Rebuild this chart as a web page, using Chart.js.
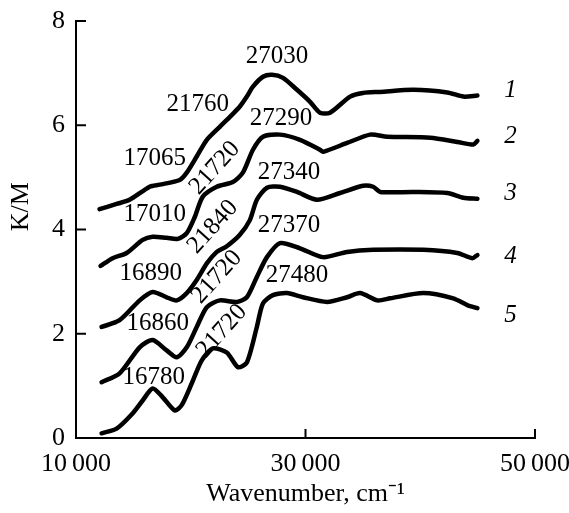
<!DOCTYPE html>
<html>
<head>
<meta charset="utf-8">
<script src="https://cdn.jsdelivr.net/npm/chart.js@4.4.0/dist/chart.umd.min.js"></script>
<style>
  body { margin: 0; background: #fff; }
  #wrap { width: 569px; height: 513px; }
</style>
</head>
<body>
<div id="wrap"><canvas id="myChart" width="569" height="513"></canvas></div>
<script>
// spectra: wavenumber (cm-1) and K/M
const curve1Wn = [12050, 13540, 14670, 16420, 17290, 19040, 19650, 20520, 21400, 22530, 23410, 24280, 24890, 25420, 26290, 27080, 28040, 29260, 30400, 31270, 32140, 33890, 35000, 36510, 39390, 42360, 43760, 44980];
const curve1Km = [4.39, 4.49, 4.57, 4.82, 4.86, 4.95, 5.09, 5.40, 5.72, 5.97, 6.16, 6.36, 6.55, 6.74, 6.93, 6.97, 6.91, 6.68, 6.45, 6.24, 6.24, 6.55, 6.62, 6.64, 6.68, 6.63, 6.55, 6.57];

const curve2Wn = [12140, 13190, 14410, 15810, 16680, 17900, 18870, 19650, 20350, 21050, 22270, 23670, 24540, 25420, 26290, 27770, 29520, 31270, 31530, 33620, 35630, 37120, 40870, 43230, 44630, 44980];
const curve2Km = [3.30, 3.45, 3.55, 3.80, 3.86, 3.84, 3.82, 3.93, 4.24, 4.63, 4.82, 4.91, 5.09, 5.53, 5.78, 5.82, 5.72, 5.53, 5.49, 5.66, 5.82, 5.78, 5.76, 5.68, 5.63, 5.70];

const curve3Wn = [12230, 13800, 15550, 16680, 17900, 18780, 19650, 20520, 21400, 22270, 23140, 24280, 25150, 25760, 26640, 27770, 29260, 31000, 33010, 35020, 35900, 36510, 39390, 42360, 43760, 44980];
const curve3Km = [2.13, 2.26, 2.64, 2.80, 2.70, 2.64, 2.78, 3.03, 3.35, 3.57, 3.68, 3.90, 4.18, 4.57, 4.80, 4.82, 4.72, 4.57, 4.70, 4.84, 4.82, 4.72, 4.72, 4.70, 4.61, 4.59];

const curve4Wn = [12230, 13800, 15550, 16680, 17900, 18780, 19650, 20520, 21400, 22530, 24020, 24890, 25760, 26640, 27770, 29520, 31530, 33620, 35900, 40260, 43230, 44540, 44980];
const curve4Km = [1.07, 1.24, 1.74, 1.88, 1.68, 1.55, 1.74, 2.13, 2.51, 2.64, 2.61, 2.70, 3.09, 3.47, 3.74, 3.64, 3.47, 3.57, 3.61, 3.61, 3.55, 3.45, 3.51];

const curve5Wn = [12230, 13540, 14930, 15810, 16680, 17560, 18600, 19210, 20090, 20960, 21920, 23140, 24110, 24890, 25760, 26290, 27160, 28380, 29780, 31880, 33620, 34760, 36250, 37380, 40260, 42880, 44100, 44980];
const curve5Km = [0.09, 0.18, 0.47, 0.72, 0.95, 0.78, 0.53, 0.63, 1.05, 1.49, 1.72, 1.64, 1.36, 1.45, 2.13, 2.58, 2.74, 2.78, 2.70, 2.61, 2.70, 2.78, 2.64, 2.68, 2.78, 2.68, 2.55, 2.49];

// band labels and where they sit (data coords)
const bandText = ["27030", "21760", "17065", "27290", "21720", "17010", "27340", "21840", "16890", "27370", "21720", "16860", "27480", "21720", "16780"];
const bandWn   = [27510, 20610, 16860, 27860, 22100, 16860, 28560, 21920, 16510, 28560, 22270, 17120, 29260, 22710, 16770];
const bandKm   = [7.32, 6.39, 5.37, 6.13, 5.18, 4.28, 5.10, 4.05, 3.15, 4.07, 3.09, 2.20, 3.11, 2.05, 1.16];
const bandTilted = [false, false, false, false, true, false, false, true, false, false, true, false, false, true, false];

const curveNames = ["1", "2", "3", "4", "5"];
const curveNameKm = [6.66, 5.79, 4.70, 3.48, 2.36];
const curveNameWn = 47860;

const xTicks = [10000, 30000, 50000];
const yTicks = [0, 2, 4, 6, 8];

const serif = "'Liberation Serif', 'Times New Roman', serif";

const toPoints = (wn, km) => wn.map((w, i) => ({ x: w, y: km[i] }));

const series = [
	toPoints(curve1Wn, curve1Km),
	toPoints(curve2Wn, curve2Km),
	toPoints(curve3Wn, curve3Km),
	toPoints(curve4Wn, curve4Km),
	toPoints(curve5Wn, curve5Km)
];

// inward tick marks + text annotations
const decorations = {
	id: "decorations",
	afterDraw(chart) {
		const ctx = chart.ctx;
		const xs = chart.scales.x;
		const ys = chart.scales.y;
		const area = chart.chartArea;
		ctx.save();
		ctx.strokeStyle = "#000";
		ctx.lineWidth = 2;
		ctx.beginPath();
		yTicks.forEach(v => {
			let py = ys.getPixelForValue(v);
			ctx.moveTo(area.left, py);
			ctx.lineTo(area.left + 10, py);
		});
		xTicks.forEach(v => {
			let px = xs.getPixelForValue(v);
			ctx.moveTo(px, area.bottom);
			ctx.lineTo(px, area.bottom - 9);
		});
		ctx.stroke();

		ctx.fillStyle = "#000";
		ctx.textAlign = "center";
		ctx.textBaseline = "middle";
		ctx.font = "25px " + serif;
		bandText.forEach((t, i) => {
			let px = xs.getPixelForValue(bandWn[i]);
			let py = ys.getPixelForValue(bandKm[i]);
			ctx.save();
			ctx.translate(px, py);
			if (bandTilted[i]) ctx.rotate(-48 * Math.PI / 180);
			ctx.fillText(t, 0, 0);
			ctx.restore();
		});

		ctx.font = "italic 25px " + serif;
		curveNames.forEach((t, i) => {
			ctx.fillText(t, xs.getPixelForValue(curveNameWn), ys.getPixelForValue(curveNameKm[i]));
		});
		ctx.restore();
	}
};

new Chart(document.getElementById("myChart"), {
	type: "line",
	data: {
		datasets: series.map((pts, i) => ({
			label: "Curve " + curveNames[i],
			data: pts,
			borderColor: "#000",
			backgroundColor: "#000",
			borderWidth: 4.5,
			borderCapStyle: "round",
			borderJoinStyle: "round",
			pointRadius: 0,
			tension: 0.25,
			fill: false
		}))
	},
	options: {
		responsive: false,
		animation: false,
		layout: { padding: { top: 21, right: 34, left: 0, bottom: 0 } },
		plugins: {
			legend: { display: false },
			tooltip: { enabled: false }
		},
		scales: {
			x: {
				type: "linear",
				min: 10000,
				max: 50000,
				afterFit: s => { s.height = 75; s.paddingLeft = 0; s.paddingRight = 0; },
				afterBuildTicks: s => { s.ticks = xTicks.map(v => ({ value: v })); },
				grid: { display: true, drawOnChartArea: false, drawTicks: false },
				border: { display: true, color: "#000", width: 2 },
				ticks: {
					color: "#000",
					padding: 11,
					maxRotation: 0,
					font: { family: serif, size: 26 },
					callback: v => String(v).replace(/(\d+)(\d{3})$/, "$1\u2009$2")
				},
				title: {
					display: true,
					text: "Wavenumber, cm\u207B\u00B9",
					color: "#000",
					font: { family: serif, size: 26 },
					padding: { top: 0, bottom: 3 }
				}
			},
			y: {
				min: 0,
				max: 8,
				afterFit: s => { s.width = 76; s.paddingTop = 0; s.paddingBottom = 0; },
				afterBuildTicks: s => { s.ticks = yTicks.map(v => ({ value: v })); },
				grid: { display: true, drawOnChartArea: false, drawTicks: false },
				border: { display: true, color: "#000", width: 2 },
				ticks: {
					color: "#000",
					padding: 11,
					font: { family: serif, size: 26 }
				},
				title: {
					display: true,
					text: "       K/M",
					color: "#000",
					font: { family: serif, size: 26 },
					padding: { top: 6, bottom: 0 }
				}
			}
		}
	},
	plugins: [decorations]
});
</script>
</body>
</html>
